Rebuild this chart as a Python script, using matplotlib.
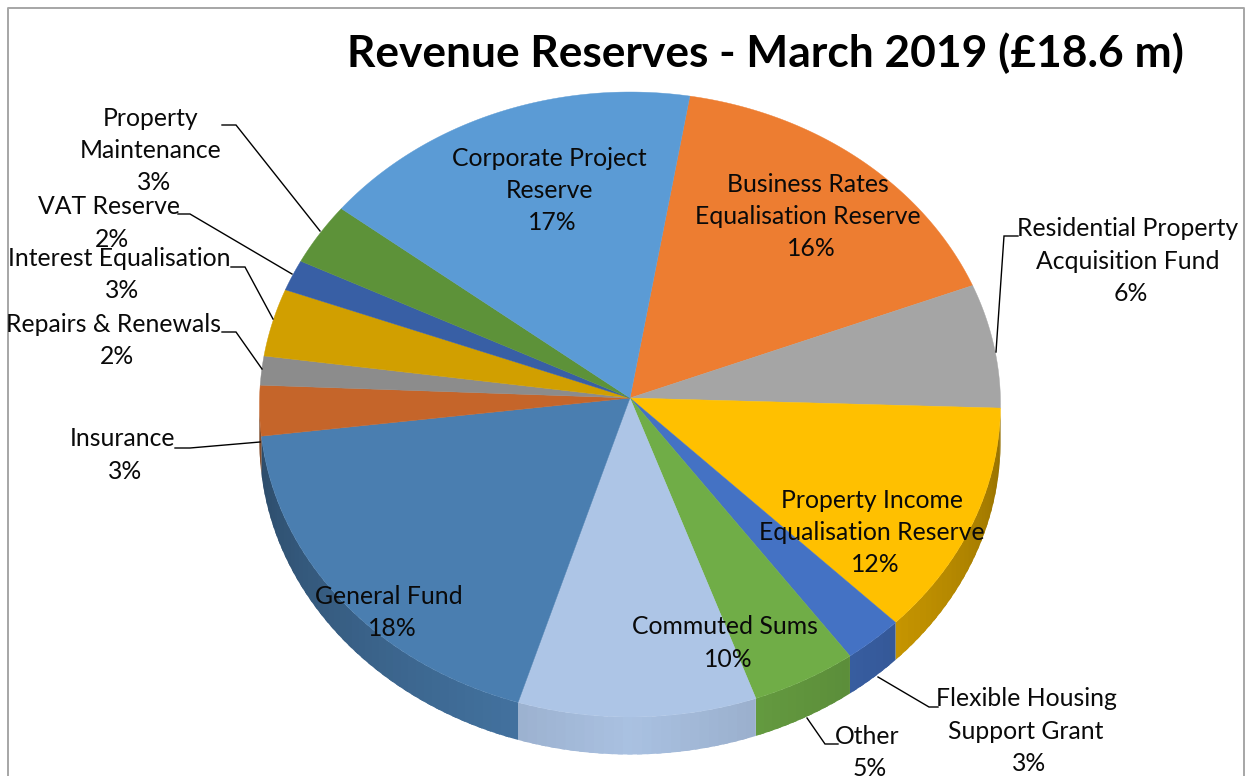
import numpy as np
import matplotlib
matplotlib.use("Agg")
import matplotlib.pyplot as plt
from matplotlib.colors import to_rgb

W, H = 1253, 776
plt.rcParams['font.family'] = ['Lato', 'DejaVu Sans']

# ---- data, clockwise from the Business Rates slice
categories = ["Business Rates\nEqualisation Reserve", "Residential Property\nAcquisition Fund",
              "Property Income\nEqualisation Reserve", "Flexible Housing\nSupport Grant",
              "Other", "Commuted Sums", "General Fund", "Insurance", "Repairs & Renewals",
              "Interest Equalisation", "VAT Reserve", "Property\nMaintenance",
              "Corporate Project\nReserve"]
values = [16.2, 6.4, 12.1, 2.6, 4.6, 10.4, 18.5, 2.6, 1.5, 3.5, 1.6, 3.2, 16.8]
percent_labels = ["16%", "6%", "12%", "3%", "5%", "10%", "18%", "3%", "2%", "3%", "2%", "3%", "17%"]
colors = ["#ED7D31", "#A5A5A5", "#FFC000", "#4472C4", "#70AD47", "#ADC5E6", "#4A7EB0",
          "#C5652A", "#8C8C8C", "#D19F00", "#385FA5", "#5D9239", "#5B9BD5"]
title = "Revenue Reserves - March 2019 (£18.6 m)"

# ---- layout (pixels of the picture): centre of each label's first line
label_pos = [(808, 183), (1128, 228), (872, 499), (1026, 698), (867, 735), (725, 626), (389, 595),
             (122, 438), (114, 323), (119, 257), (109, 206), (151, 117), (549, 157)]
leaders = [None,
           [(1018, 236), (1004, 236), (996, 352)],
           None,
           [(938, 707), (929, 707), (878, 677)],
           [(838, 744), (825, 744), (807, 718)],
           None, None,
           [(175, 448), (190, 448), (260, 442)],
           [(222, 332), (236, 332), (262, 369)],
           [(231, 267), (245, 267), (273, 319)],
           [(178, 214), (190, 214), (292, 274)],
           [(222, 125), (236, 125), (320, 231)],
           None]
START = 9.3                 # degrees clockwise from the top
APEX = (630, 398)
CX, CY, RX, RY = 630, 404.5, 370.5, 312.5
DEPTH = 37.5
FS = 17.8
LINE = 32.2
PCT_SHIFT = 3


def rim(t, dy=0.0):
    t = np.radians(t)
    return CX + RX * np.sin(t), CY - RY * np.cos(t) + dy


def shade(c, f):
    return tuple(np.clip(np.array(to_rgb(c)) * f, 0, 1))


fig = plt.figure(figsize=(W / 100, H / 100), dpi=100, facecolor="white")
ax = fig.add_axes([0, 0, 1, 1])
ax.set_xlim(0, W)
ax.set_ylim(H, 0)
ax.axis("off")

# chart frame
ax.plot([7.5, 7.5, 1244, 1244], [H + 5, 7.5, 7.5, H + 5], color="#A6A6A6", lw=1.4, zorder=1)

edges = START + np.concatenate([[0], np.cumsum(values)]) * 360.0 / np.sum(values)

# side wall: each narrow band overlaps the next so that no seams show
for i, c in enumerate(colors):
    a, b = edges[i] % 360, edges[i + 1] % 360
    if b < a:
        b += 360
    lo, hi = max(a, 90), min(b, 270)
    if hi <= lo:
        continue
    steps = np.linspace(lo, hi, max(2, int((hi - lo) / 1.5) + 2))
    for s0, s1 in zip(steps[:-1], steps[1:]):
        m = 0.5 * (s0 + s1)
        f = 0.98 - 0.0045 * abs(m - 180)
        ts = np.linspace(s0, min(s1 + 0.8, hi), 5)
        xt, yt = rim(ts)
        xb, yb = rim(ts[::-1], DEPTH)
        ax.fill(np.r_[xt, xb], np.r_[yt, yb], facecolor=shade(c, f), edgecolor="none", lw=0, zorder=2)

# top face
for i, c in enumerate(colors):
    ts = np.linspace(edges[i], edges[i + 1], 80)
    xr, yr = rim(ts)
    ax.fill(np.r_[APEX[0], xr], np.r_[APEX[1], yr], facecolor=c, edgecolor=c, lw=0.3, zorder=3)

# leaders
for pts in leaders:
    if pts:
        xs, ys = zip(*pts)
        ax.plot(xs, ys, color="black", lw=1.0, zorder=4, solid_joinstyle="miter")

# labels
for name, pct, (x, y) in zip(categories, percent_labels, label_pos):
    lines = name.split("\n")
    for k, line in enumerate(lines):
        ax.text(x, y + 1 + k * LINE, line, ha="center", va="center", fontsize=FS, color="#0A0A0A", zorder=5)
    ax.text(x + PCT_SHIFT, y + 1 + len(lines) * LINE, pct, ha="center", va="center", fontsize=FS,
            color="#0A0A0A", zorder=5)

ax.text(765, 53.5, title, ha="center", va="center", fontsize=31.9, fontweight="bold", color="black", zorder=5)

fig.savefig("out.png", dpi=100)
